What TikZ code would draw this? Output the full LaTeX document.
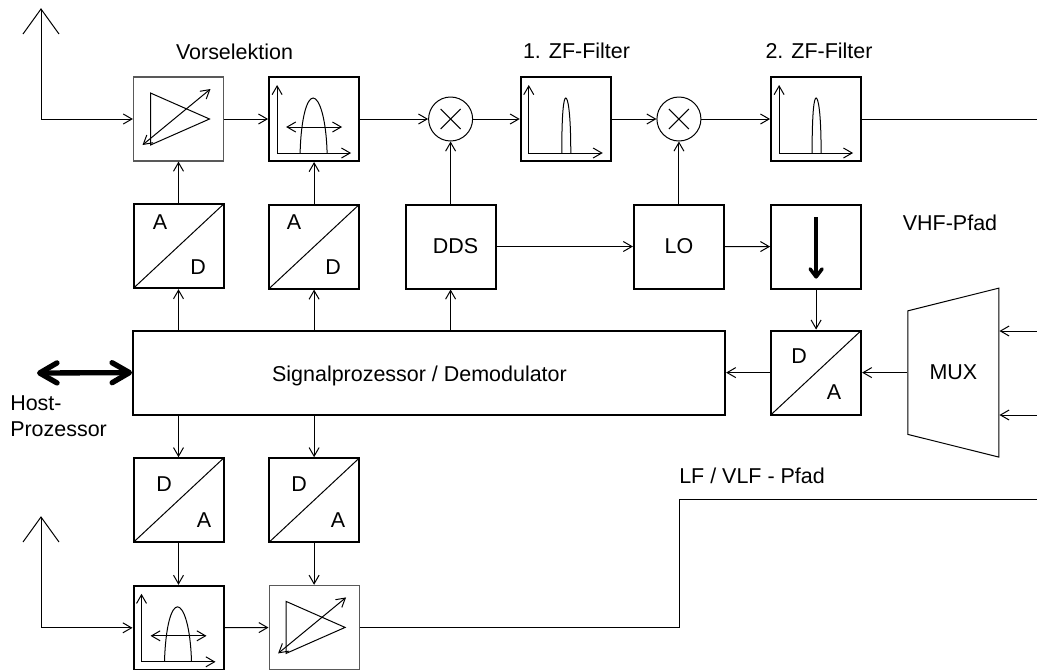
\documentclass[tikz,border=0pt]{standalone}
\usepackage{fontspec}
\setmainfont{Liberation Sans}
\usetikzlibrary{arrows.meta, positioning, shapes.geometric}

\tikzset{
    pics/ampsym/.style={code={
        \draw[thinline, line join=miter] (-28,-26) -- (31,0) -- (-28,26) -- cycle;
        \draw[sigline, <->] (-36,26) -- (32,-30);
    }},
    pics/widefilt/.style={code={
        \draw[sigline, <->] (-37,-34) -- (-37,34) -- (37,34);
        \draw[thinline] (-14,34) .. controls (-13,-2) and (-7,-21) .. (-1,-21) .. controls (5,-21) and (12,-2) .. (13,34);
        \draw[sigline, <->] (-28,8) -- (28,8);
    }},
    pics/slimfilt/.style={code={
        \draw[sigline, <->] (-37,-34) -- (-37,34) -- (37,34);
        \draw[thinline] (-4,34) .. controls (-4,-8) and (-2,-21) .. (0,-21) .. controls (2,-21) and (5,-8) .. (5,34);
    }}
}

\begin{document}
\begin{tikzpicture}[
    x=0.75pt, y=-0.75pt,
    node distance=31.2pt and 33pt,
    >={Straight Barb[length=6.5pt,width=7.5pt]},
    every node/.style={font=\fontsize{16.1}{20.2}\selectfont},
    thinline/.style={line width=0.75pt},
    sigline/.style={thinline, ->},
    hostline/.style={line width=4pt, line cap=round, {Straight Barb[round,line width=4pt,length=13pt,width=15pt]}-{Straight Barb[round,line width=4pt,length=13pt,width=15pt]}},
    blockbox/.style={rectangle, draw=black, line width=1.5pt, minimum width=67.5pt, minimum height=63pt, inner sep=0pt},
    ampbox/.style={blockbox, draw=black!65, line width=0.9pt},
    convbox/.style={blockbox, path picture={\draw[thinline] (path picture bounding box.south west) -- (path picture bounding box.north east);}},
    mixbox/.style={circle, draw=black, thinline, minimum size=33pt, inner sep=0pt, path picture={
        \draw[thinline] ([shift={(-10,-10)}]path picture bounding box.center) -- ([shift={(10,10)}]path picture bounding box.center);
        \draw[thinline] ([shift={(-10,10)}]path picture bounding box.center) -- ([shift={(10,-10)}]path picture bounding box.center);}},
    lab/.style={inner sep=0pt}
]
\useasboundingbox (0,0) rectangle (1037,669);

% upper path
\node (ampTop) [ampbox] at (178.5,119) {};
\node (filtPre) [blockbox, right=of ampTop] {};
\node (mixA) [mixbox, right=51pt of filtPre] {};
\node (filtA) [blockbox, right=35pt of mixA] {};
\node (mixB) [mixbox, right=33.5pt of filtA] {};
\node (filtB) [blockbox, right=51.5pt of mixB] {};

\node (adA) [convbox, below=of ampTop] {};
\node (adB) [convbox, below=of filtPre] {};
\node (dds) [blockbox, below=46.5pt of mixA] {\hspace*{7.5pt}DDS};
\node (lo) [blockbox, below=46.5pt of mixB] {\raisebox{-2pt}{LO}};
\node (pathsw) [blockbox, below=of filtB] {};

\node (daR) [convbox, below=30pt of pathsw] {};
\node (dsp) [blockbox, minimum width=444pt, left=33pt of daR] {};
\node (mux) [trapezium, draw=black, thinline, trapezium stretches=true, trapezium angle=86.7, shape border rotate=90, minimum width=126.75pt, minimum height=68.25pt, inner sep=0pt, right=34pt of daR] {MUX};

% lower path
\coordinate (dspA) at (dsp.south -| adA);
\coordinate (dspB) at (dsp.south -| adB);
\node (daA) [convbox, below=of dspA] {};
\node (daB) [convbox, below=of dspB] {};
\node (filtBot) [blockbox, below=of daA] {};
\node (ampBot) [ampbox, below=of daB] {};

% free ends
\coordinate (antTop) at (41,9);
\coordinate (antBot) at (41,517);
\coordinate (vhfOut) at (1037,119);
\coordinate (muxInA) at (1037,331);
\coordinate (muxInB) at (1037,415);
\coordinate (hostEnd) at (37,373);
\coordinate (lfKnee) at (679.5,499);
\coordinate (lfOut) at (1037,499);

% labels
\node (preLab) [lab] at (234.5,51.5) {Vorselektion};
\node (zfLabA) [lab] at (576.5,51) {1. ZF-Filter};
\node (zfLabB) [lab] at (819,51) {2. ZF-Filter};
\node (vhfLab) [lab] at (950,223) {VHF-Pfad};
\node (lfLab) [lab, anchor=west] at (679,476) {LF / VLF - Pfad};
\node (dspLab) [lab] at (419.5,376) {Signalprozessor / Demodulator};
\node (hostLab) [lab, anchor=north west, align=left] at (10,395) {Host-\\Prozessor};

\node (adAa) [lab] at ([shift={(-18.5,-24)}]adA) {A};
\node (adAd) [lab] at ([shift={(19.5,21)}]adA) {D};
\node (adBa) [lab] at ([shift={(-20,-24)}]adB) {A};
\node (adBd) [lab] at ([shift={(19,21)}]adB) {D};
\node (daRd) [lab] at ([shift={(-17,-16)}]daR) {D};
\node (daRa) [lab] at ([shift={(18,20)}]daR) {A};
\node (daAd) [lab] at ([shift={(-14.5,-16.5)}]daA) {D};
\node (daAa) [lab] at ([shift={(25.5,19.5)}]daA) {A};
\node (daBd) [lab] at ([shift={(-15,-16.5)}]daB) {D};
\node (daBa) [lab] at ([shift={(24,19.5)}]daB) {A};

% box contents
\pic at (ampTop) {ampsym};
\pic at (ampBot) {ampsym};
\pic at (filtPre) {widefilt};
\pic at (filtBot) {widefilt};
\pic at (filtA) {slimfilt};
\pic at (filtB) {slimfilt};
\draw [line width=2.6pt, ->, >={Straight Barb[round,line width=2.6pt,length=6pt,width=9pt]}] ([yshift=22pt]pathsw.center) -- ([yshift=-24pt]pathsw.center);

% antennas
\draw [thinline] ([shift={(-18,25)}]antTop) -- (antTop) -- ([shift={(18,25)}]antTop);
\draw [thinline] ([shift={(-18,25)}]antBot) -- (antBot) -- ([shift={(18,25)}]antBot);

% connectors
\draw [sigline] (antTop) |- (ampTop.west);
\draw [sigline] (ampTop) -- (filtPre);
\draw [sigline] (filtPre) -- (mixA);
\draw [sigline] (mixA) -- (filtA);
\draw [sigline] (filtA) -- (mixB);
\draw [sigline] (mixB) -- (filtB);
\draw [thinline] (filtB) -- (vhfOut);

\draw [sigline] (adA) -- (ampTop);
\draw [sigline] (adB) -- (filtPre);
\draw [sigline] (dds) -- (mixA);
\draw [sigline] (lo) -- (mixB);
\draw [sigline] (dds) -- (lo);
\draw [sigline] (lo) -- (pathsw);

\draw [sigline] (adA |- dsp.north) -- (adA.south);
\draw [sigline] (adB |- dsp.north) -- (adB.south);
\draw [sigline] (dds |- dsp.north) -- (dds.south);
\draw [sigline] (pathsw) -- (daR);
\draw [sigline] (daR) -- (dsp);
\draw [sigline] (mux.west) -- (daR.east);
\draw [sigline] (muxInA) -- (muxInA -| mux.east);
\draw [sigline] (muxInB) -- (muxInB -| mux.east);
\draw [hostline] (hostEnd) -- (dsp.west);

\draw [sigline] (dspA) -- (daA);
\draw [sigline] (dspB) -- (daB);
\draw [sigline] (daA) -- (filtBot);
\draw [sigline] (daB) -- (ampBot);
\draw [sigline] (antBot) |- (filtBot.west);
\draw [sigline] (filtBot) -- (ampBot);
\draw [thinline] (ampBot.east) -| (lfKnee) -- (lfOut);

\end{tikzpicture}
\end{document}
